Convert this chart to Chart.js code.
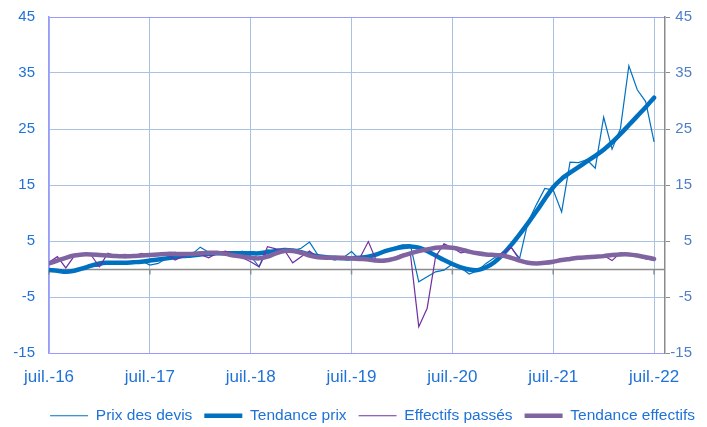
<!DOCTYPE html>
<html lang="fr">
<head>
<meta charset="utf-8">
<title>Prix des devis et effectifs</title>
<script src="https://cdn.jsdelivr.net/npm/chart.js@4/dist/chart.umd.min.js"></script>
<style>
  html, body { margin: 0; padding: 0; background: #fff; }
</style>
</head>
<body>
<canvas id="chart" width="707" height="427"></canvas>
<script>
// x-axis labels, one per July
const tickLabels = ['juil.-16', 'juil.-17', 'juil.-18', 'juil.-19', 'juil.-20', 'juil.-21', 'juil.-22'];
const yTicks = [-15, -5, 5, 15, 25, 35, 45];

// monthly series, juil.-16 to juil.-22 (73 months)
const prixDevis = [
  -0.3, -0.2, -0.6, -0.3, 0.2, 0.4, 0.5, 1.3, 1.0, 1.2, 1.0, 1.5,
  0.7, 1.0, 2.0, 3.0, 2.3, 2.6, 3.9, 3.0, 2.6, 2.8, 2.6, 3.2,
  2.3, 0.4, 3.4, 3.2, 3.5, 3.3, 3.7, 4.8, 2.5, 2.0, 1.6, 2.0,
  3.1, 1.6, 2.2, 2.5, 3.3, 3.8, 4.3, 4.3, -2.3, -1.4, -0.5, -0.2,
  0.9, 0.2, -0.9, -0.3, 1.0, 2.0, 3.0, 3.8, 1.9, 8.4, 11.5, 14.4,
  14.1, 10.2, 19.1, 19.0, 19.5, 18.0, 27.1, 21.4, 25.1, 36.3, 32.0, 29.9,
  22.7
];
const tendancePrix = [
  -0.2, -0.3, -0.5, -0.3, 0.1, 0.6, 1.0, 1.1, 1.1, 1.1, 1.2, 1.3,
  1.5, 1.7, 1.9, 2.1, 2.3, 2.4, 2.6, 2.7, 2.8, 2.8, 2.8, 2.8,
  2.8, 2.8, 3.0, 3.2, 3.4, 3.3, 3.0, 2.6, 2.3, 2.1, 2.0, 1.9,
  1.9, 2.0, 2.2, 2.6, 3.2, 3.6, 3.9, 4.0, 3.8, 3.2, 2.4, 1.6,
  0.9, 0.3, -0.1, -0.2, 0.3, 1.2, 2.6, 4.3, 6.2, 8.2, 10.3, 12.5,
  14.6, 16.1, 17.2, 18.2, 19.2, 20.2, 21.3, 22.6, 24.1, 25.7, 27.3, 28.9,
  30.6
];
const effectifsPasses = [
  1.2, 2.2, 0.2, 2.3, 2.6, 2.5, 0.4, 2.8, 2.3, 2.0, 2.2, 2.8,
  2.5, 2.5, 2.8, 1.6, 2.3, 2.5, 2.6, 2.0, 2.8, 3.2, 2.6, 2.0,
  1.3, 0.4, 4.0, 3.6, 3.4, 1.1, 2.2, 3.2, 2.0, 2.0, 1.8, 2.0,
  2.2, 2.0, 4.9, 1.3, 1.3, 2.0, 2.6, 2.8, -10.3, -7.0, 2.2, 4.5,
  3.8, 2.9, 3.2, 2.6, 2.5, 2.5, 2.8, 3.9, 1.6, 1.1, 1.0, 1.1,
  1.4, 1.8, 1.6, 2.0, 2.1, 2.2, 2.4, 1.5, 2.9, 2.6, 2.5, 1.8,
  1.6
];
const tendanceEffectifs = [
  1.0, 1.5, 2.0, 2.4, 2.6, 2.6, 2.5, 2.4, 2.3, 2.3, 2.3, 2.4,
  2.5, 2.6, 2.7, 2.7, 2.7, 2.7, 2.8, 2.9, 2.9, 2.7, 2.4, 2.2,
  2.0, 1.9, 2.2, 2.8, 3.2, 3.2, 2.9, 2.4, 2.1, 2.0, 2.0, 2.0,
  1.9, 1.8, 1.7, 1.5, 1.5, 1.8, 2.3, 2.8, 3.2, 3.5, 3.8, 3.9,
  3.8, 3.5, 3.1, 2.8, 2.6, 2.5, 2.4, 2.0, 1.5, 1.1, 1.0, 1.1,
  1.3, 1.6, 1.8, 2.0, 2.1, 2.2, 2.3, 2.5, 2.6, 2.6, 2.4, 2.1,
  1.8
];

const blue = '#0070C0';
const purple = '#7030A0';
const purpleTrend = '#8064A2';
const labelBlue = '#1F72D6';
const font = '"Liberation Sans", Arial, sans-serif';

function points(values) {
  return values.map((v, i) => ({ x: i, y: v }));
}

function setYTicks(scale) {
  scale.ticks = yTicks.map(v => ({ value: v }));
}

// grey horizontal axis at zero, with small tick marks under it
const zeroAxis = {
  id: 'zeroAxis',
  beforeDatasetsDraw(chart) {
    const { ctx, chartArea, scales } = chart;
    const y0 = Math.round(scales.y.getPixelForValue(0)) + 0.5;
    ctx.save();
    ctx.strokeStyle = '#8C8C8C';
    ctx.lineWidth = 1.5;
    ctx.beginPath();
    ctx.moveTo(chartArea.left, y0);
    ctx.lineTo(chartArea.right, y0);
    scales.x.ticks.forEach(t => {
      const x = scales.x.getPixelForValue(t.value);
      ctx.moveTo(x, y0);
      ctx.lineTo(x, y0 + 5);
    });
    ctx.stroke();
    ctx.restore();
  }
};

const ctx = document.getElementById('chart').getContext('2d');
new Chart(ctx, {
  type: 'line',
  data: {
    datasets: [
      {
        label: 'Prix des devis',
        data: points(prixDevis),
        borderColor: blue,
        backgroundColor: blue,
        borderWidth: 1.2,
        pointRadius: 0,
        tension: 0,
        order: 4
      },
      {
        label: 'Tendance prix',
        data: points(tendancePrix),
        borderColor: blue,
        backgroundColor: blue,
        borderWidth: 4.5,
        pointRadius: 0,
        tension: 0.3,
        borderCapStyle: 'round',
        borderJoinStyle: 'round',
        order: 3
      },
      {
        label: 'Effectifs passés',
        data: points(effectifsPasses),
        borderColor: purple,
        backgroundColor: purple,
        borderWidth: 1.2,
        pointRadius: 0,
        tension: 0,
        order: 2
      },
      {
        label: 'Tendance effectifs',
        data: points(tendanceEffectifs),
        borderColor: purpleTrend,
        backgroundColor: purpleTrend,
        borderWidth: 4.5,
        pointRadius: 0,
        tension: 0.3,
        borderCapStyle: 'round',
        borderJoinStyle: 'round',
        order: 1
      }
    ]
  },
  options: {
    responsive: false,
    animation: false,
    devicePixelRatio: 1,
    layout: { padding: { top: 17, bottom: 0, left: 0, right: 0 } },
    plugins: {
      tooltip: { enabled: false },
      legend: {
        position: 'bottom',
        align: 'end',
        maxHeight: 31,
        labels: {
          usePointStyle: true,
          pointStyle: 'line',
          pointStyleWidth: 38,
          padding: 12,
          color: labelBlue,
          font: { family: font, size: 15.5 },
          sort: (a, b) => a.datasetIndex - b.datasetIndex
        }
      }
    },
    scales: {
      x: {
        type: 'linear',
        min: 0,
        max: 73.3,
        afterBuildTicks: scale => {
          scale.ticks = tickLabels.map((_, k) => ({ value: k * 12 }));
        },
        afterFit: scale => { scale.height = 43; },
        grid: { color: '#A9C2E2', lineWidth: 1, drawTicks: false },
        border: { display: false },
        ticks: {
          autoSkip: false,
          maxRotation: 0,
          padding: 14,
          color: labelBlue,
          font: { family: font, size: 17 },
          callback: (v, i) => tickLabels[i]
        }
      },
      y: {
        position: 'left',
        min: -15,
        max: 45,
        afterBuildTicks: setYTicks,
        afterFit: scale => { scale.width = 49; },
        grid: {
          color: c => (c.tick && (c.tick.value === 45 || c.tick.value === -15)) ? '#9999FF' : '#A9C2E2',
          lineWidth: 1,
          drawTicks: true,
          tickLength: 14,
          tickColor: 'rgba(0,0,0,0)'
        },
        border: { color: '#9999FF', width: 1.5 },
        ticks: {
          padding: 0,
          color: labelBlue,
          font: { family: font, size: 15 }
        }
      },
      y2: {
        position: 'right',
        weight: 0,
        min: -15,
        max: 45,
        afterBuildTicks: setYTicks,
        afterFit: scale => { scale.width = 27; },
        grid: { drawOnChartArea: false, drawTicks: true, tickLength: 5, color: '#8C8C8C' },
        border: { color: '#8C8C8C', width: 1.5 },
        ticks: {
          crossAlign: 'far',
          padding: 0,
          color: '#4F7FC9',
          font: { family: font, size: 15 }
        }
      },
      // empty spacer on the far right so the right labels end where they do in the source
      spacer: {
        position: 'right',
        weight: 1,
        min: 0,
        max: 1,
        afterFit: scale => { scale.width = 15; },
        grid: { display: false },
        border: { display: false },
        ticks: { display: false }
      }
    }
  },
  plugins: [zeroAxis]
});
</script>
</body>
</html>
